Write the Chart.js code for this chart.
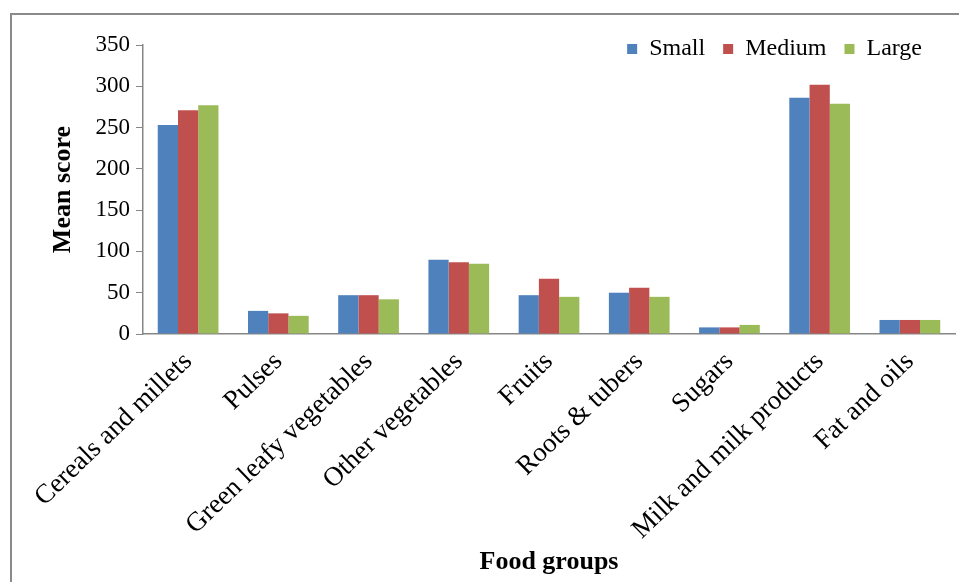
<!DOCTYPE html>
<html>
<head>
<meta charset="utf-8">
<script src="https://cdn.jsdelivr.net/npm/chart.js@4/dist/chart.umd.min.js"></script>
<style>
  body { margin: 0; background: #fff; overflow: hidden; }
  #cadre { position: absolute; left: 10px; top: 13px; width: 1000px; height: 1000px; border: 2px solid #8a8a8a; box-sizing: border-box; }
  #graphe { position: absolute; left: 0; top: 0; }
</style>
</head>
<body>
<div id="cadre"></div>
<canvas id="graphe" width="959" height="582"></canvas>
<script>
// groupes alimentaires et scores moyens par taille
var groupes = ['Cereals and millets', 'Pulses', 'Green leafy vegetables', 'Other vegetables', 'Fruits', 'Roots & tubers', 'Sugars', 'Milk and milk products', 'Fat and oils'];
var small  = [253, 28, 47, 90, 47, 50, 8, 286, 17];
var medium = [271, 25, 47, 87, 67, 56, 8, 302, 17];
var large  = [277, 22, 42, 85, 45, 45, 11, 279, 17];
var graduations = [0, 50, 100, 150, 200, 250, 300, 350];

var police = 'Liberation Serif, Times New Roman, serif';
var gris = '#868686';

// descend la légende dans la zone du graphe, en haut à droite
var legendeDedans = {
  id: 'legendeDedans',
  afterLayout: function (chart) {
    var lg = chart.legend;
    if (!lg) return;
    var lab = lg.options.labels;
    var dy = 49 - (lg.top + lab.padding + lab.font.size / 2);
    var dx = 940 - lg.right;
    lg.top += dy; lg.bottom += dy;
    lg.left += dx; lg.right += dx;
  }
};

var ctx = document.getElementById('graphe').getContext('2d');

new Chart(ctx, {
  type: 'bar',
  data: {
    labels: groupes,
    datasets: [
      { label: 'Small',  data: small,  backgroundColor: '#4F81BD' },
      { label: 'Medium', data: medium, backgroundColor: '#C0504D' },
      { label: 'Large',  data: large,  backgroundColor: '#9BBB59' }
    ]
  },
  plugins: [legendeDedans],
  options: {
    responsive: false,
    animation: false,
    layout: { padding: { left: 0, top: -7, right: 4, bottom: 0 } },
    datasets: { bar: { categoryPercentage: 0.673, barPercentage: 1.0 } },
    plugins: {
      tooltip: { enabled: false },
      legend: {
        position: 'top',
        align: 'end',
        labels: {
          boxWidth: 10,
          boxHeight: 10,
          padding: 18,
          color: '#000',
          font: { family: police, size: 24 }
        }
      }
    },
    scales: {
      x: {
        grid: { display: true, drawOnChartArea: false, drawTicks: false },
        border: { color: gris, width: 1.5 },
        ticks: {
          color: '#000',
          font: { family: police, size: 27 },
          maxRotation: 44,
          minRotation: 44,
          padding: 12,
          autoSkip: false
        },
        title: {
          display: true,
          text: 'Food groups',
          color: '#000',
          font: { family: police, size: 26, weight: 'bold' },
          padding: { top: 0, bottom: 4 }
        },
        afterFit: function (axe) { axe.height = 248; }
      },
      y: {
        min: 0,
        max: 350,
        afterBuildTicks: function (axe) {
          axe.ticks = graduations.map(function (v) { return { value: v }; });
        },
        grid: { display: true, drawOnChartArea: false, drawTicks: true, tickLength: 7, color: gris },
        border: { color: gris, width: 1.5 },
        ticks: {
          color: '#000',
          font: { family: police, size: 23 },
          padding: 6
        },
        title: {
          display: true,
          text: 'Mean score',
          color: '#000',
          font: { family: police, size: 26, weight: 'bold' },
          padding: { top: 48, bottom: 0 }
        },
        afterFit: function (axe) { axe.width = 143; }
      }
    }
  }
});
</script>
</body>
</html>
